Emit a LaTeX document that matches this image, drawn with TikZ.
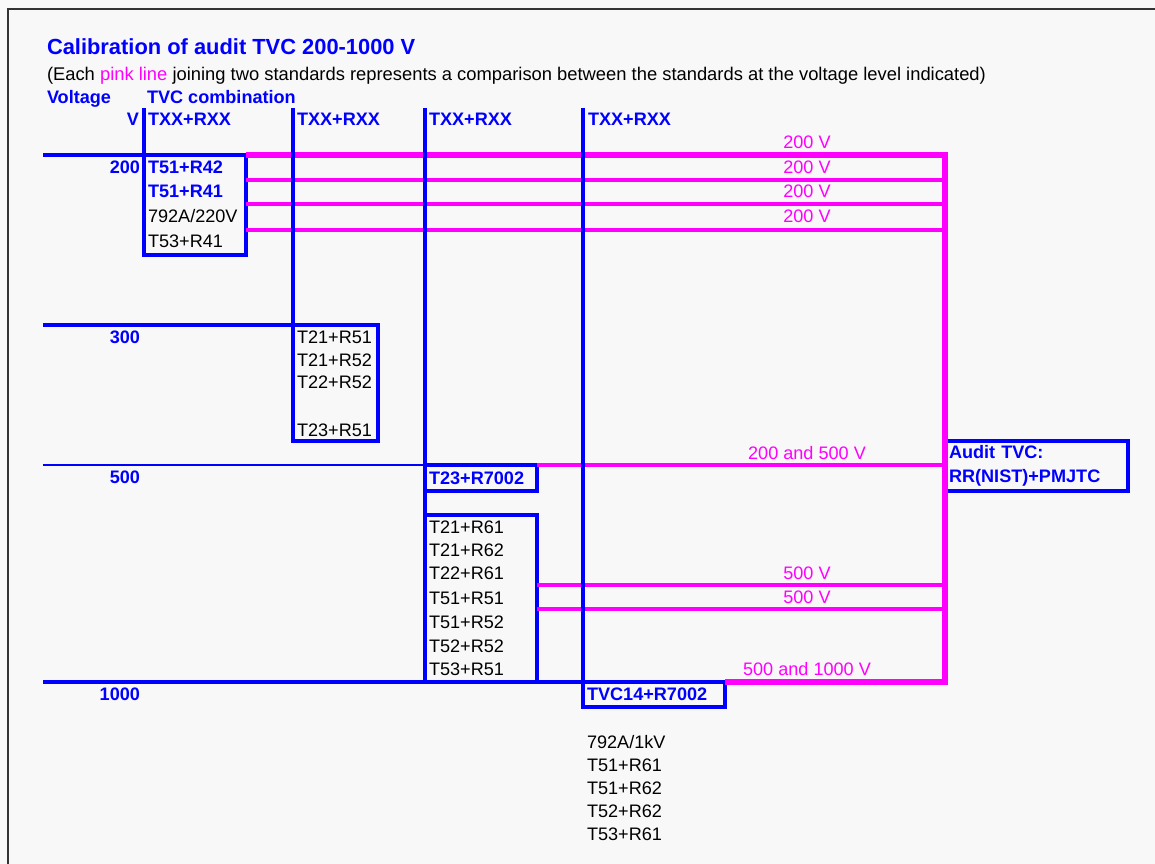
\documentclass[tikz,border=0pt]{standalone}
\usepackage{fontspec}
\setmainfont{Liberation Sans}
\usetikzlibrary{positioning}
\definecolor{pinkline}{RGB}{255,0,255}
\definecolor{stdblue}{RGB}{0,0,255}
\definecolor{paper}{RGB}{248,248,248}

\begin{document}
\begin{tikzpicture}[
  x=0.02cm, y=-0.02cm,
  every node/.style={inner sep=0pt, outer sep=0pt},
  txt/.style={anchor=base west, font=\fontsize{10.3}{12}\selectfont},
  bluetxt/.style={txt, text=stdblue, font=\fontsize{10.3}{12}\selectfont\bfseries},
  levtxt/.style={bluetxt, anchor=base east},
  cmptxt/.style={anchor=base, text=pinkline, font=\fontsize{10.3}{12}\selectfont},
  listbox/.style={draw=stdblue, line width=2pt, anchor=north west},
  stdbox/.style={draw=stdblue, line width=2.8pt, anchor=north west, inner xsep=0.08cm, align=left,
    text=stdblue, font=\fontsize{10.3}{13.6}\selectfont\bfseries},
  colline/.style={draw=stdblue, line width=2pt},
  levline/.style={draw=stdblue, line width=2pt},
  cmp/.style={draw=pinkline, line width=2.5pt}
]
  \useasboundingbox[fill=paper] (0,0) rectangle (1155,864);
  \draw[black!80, line width=1.3pt] (1155,9) -- (8,9) -- (8,864);

  % headings
  \node[bluetxt, font=\fontsize{12.45}{14}\selectfont\bfseries] (title) at (47,54.8) {Calibration of audit TVC 200-1000 V};
  \node[txt, font=\fontsize{10.45}{12}\selectfont] (sub) at (47,80.5) {(Each \textcolor{pinkline}{pink line} joining two standards represents a comparison between the standards at the voltage level indicated)};
  \node[bluetxt] (volt) at (47,103.5) {Voltage};
  \node[bluetxt] (comb) at (147,103.5) {TVC combination};
  \node[levtxt] (unit) at (139,125.5) {V};
  \foreach \x [count=\i] in {148,297,429,588}
    \node[bluetxt] (hd\i) at (\x,125.5) {TXX+RXX};

  % boxes
  \node[listbox, minimum width=2.04cm, minimum height=2cm] (b200) at (144,155) {};
  \node[listbox, minimum width=1.7cm, minimum height=2.32cm] (b300) at (293,325) {};
  \node[stdbox, text width=2.08cm, minimum height=0.52cm] (b500) at (425,465) {T23+R7002};
  \node[listbox, minimum width=2.24cm, minimum height=3.34cm] (b500list) at (425,515) {};
  \node[stdbox, text width=2.68cm, minimum height=0.5cm] (b1000) at (583,682) {TVC14+R7002};
  \node[stdbox, line width=2pt, text width=3.5cm, minimum height=1cm] (audit) at (945,441) {Audit TVC:\\RR(NIST)+PMJTC};

  % standards
  \node[bluetxt] (s1) at (148,173.5) {T51+R42};
  \node[bluetxt] (s2) at (148,197.5) {T51+R41};
  \node[txt] (s3) at (148,222.5) {792A/220V};
  \node[txt] (s4) at (148,247.5) {T53+R41};
  \foreach \t/\y [count=\i] in {T21+R51/343.5, T21+R52/366.5, T22+R52/388.5, T23+R51/436.5}
    \node[txt] (t\i) at (297,\y) {\t};
  \foreach \t/\y [count=\i] in {T21+R61/533.5, T21+R62/556.5, T22+R61/579.5, T51+R51/604.5,
      T51+R52/628.5, T52+R52/652.5, T53+R51/675.5}
    \node[txt] (u\i) at (429,\y) {\t};
  \foreach \t/\y [count=\i] in {{792A/1kV}/748.5, T51+R61/771.5, T51+R62/794.5, T52+R62/817.5, T53+R61/840.5}
    \node[txt] (w\i) at (587,\y) {\t};

  % voltage levels
  \coordinate (v200) at (43,155);
  \coordinate (v300) at (43,325);
  \coordinate (v500) at (43,465);
  \coordinate (v1000) at (43,682);
  \node[levtxt] (l200) at (140,173.5) {200};
  \node[levtxt] (l300) at (140,343.5) {300};
  \node[levtxt] (l500) at (140,483.5) {500};
  \node[levtxt] (l1000) at (140,700.5) {1000};
  \draw[levline] (v200) -- (b200.north west);
  \draw[levline] (v300) -- (b300.north west);
  \draw[levline, line width=1.4pt] (v500) -- (b500.north west);
  \draw[levline] (v1000) -- (b1000.north west);

  % comparisons
  \coordinate (bus1) at (945,155);
  \coordinate (bus2) at (945,180);
  \coordinate (bus3) at (945,204);
  \coordinate (bus4) at (945,230);
  \coordinate (bus5) at (945,465);
  \coordinate (bus6) at (945,585);
  \coordinate (bus7) at (945,609);
  \coordinate (bus8) at (945,682);
  \draw[cmp, line width=3pt] (b200.north east) -- (bus1) -- (bus8) -- (b1000.north east);
  \draw[cmp, line width=2.7pt] (b200.east |- bus2) -- (bus2);
  \draw[cmp, line width=2.7pt] (b200.east |- bus3) -- (bus3);
  \draw[cmp, line width=2pt] (b200.east |- bus4) -- (bus4);
  \draw[cmp] (b500.north east) -- (bus5);
  \draw[cmp] (b500list.east |- bus6) -- (bus6);
  \draw[cmp] (b500list.east |- bus7) -- (bus7);
  \node[cmptxt] (c1) at (807,148.5) {200 V};
  \node[cmptxt] (c2) at (807,173.5) {200 V};
  \node[cmptxt] (c3) at (807,197.5) {200 V};
  \node[cmptxt] (c4) at (807,222.5) {200 V};
  \node[cmptxt] (c5) at (807,459.5) {200 and 500 V};
  \node[cmptxt] (c6) at (807,579.5) {500 V};
  \node[cmptxt] (c7) at (807,603.5) {500 V};
  \node[cmptxt] (c8) at (807,675.5) {500 and 1000 V};

  % columns
  \coordinate (k1) at (144,108);
  \coordinate (k2) at (293,108);
  \coordinate (k3) at (425,108);
  \coordinate (k4) at (583,108);
  \draw[colline] (k1) -- (b200.north west);
  \draw[colline] (k2) -- (b300.north west);
  \draw[colline] (k3) -- (b500list.south west);
  \draw[colline] (k4) -- (b1000.north west);
\end{tikzpicture}
\end{document}
